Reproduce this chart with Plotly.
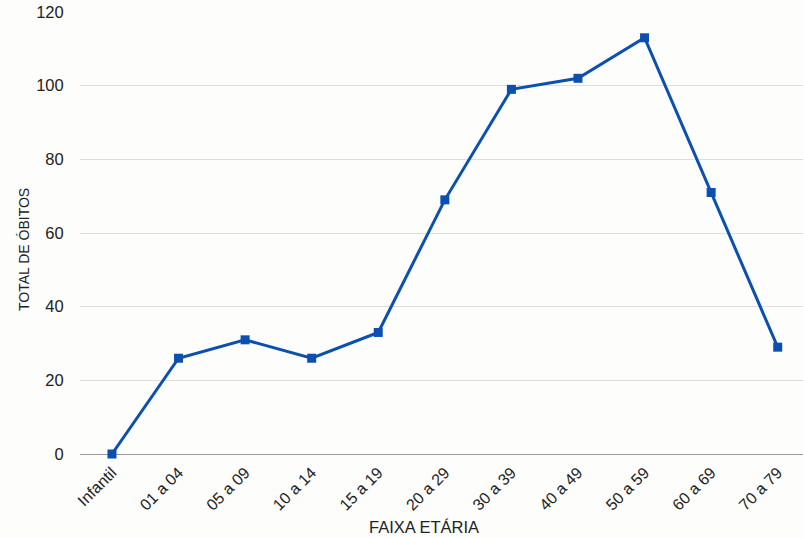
import plotly.graph_objects as go

categorias = ["Infantil", "01 a 04", "05 a 09", "10 a 14", "15 a 19", "20 a 29",
              "30 a 39", "40 a 49", "50 a 59", "60 a 69", "70 a 79"]
obitos = [0, 26, 31, 26, 33, 69, 99, 102, 113, 71, 29]
yticks = [0, 20, 40, 60, 80, 100, 120]

fig = go.Figure(go.Scatter(
    x=categorias, y=obitos, mode="lines+markers",
    line=dict(color="#0b50b0", width=3),
    marker=dict(symbol="square", size=9, color="#0b50b0"),
    cliponaxis=False,
))

font = "Liberation Sans, Arial, sans-serif"
fig.update_layout(
    width=804, height=538,
    margin=dict(l=80, r=1, t=12, b=84),
    paper_bgcolor="#fdfdfc", plot_bgcolor="#fdfdfc",
    font=dict(family=font, color="#222222"),
    showlegend=False,
    xaxis=dict(
        type="category", range=[-0.48, 10.38], tickangle=-45,
        tickfont=dict(size=16), showgrid=False, zeroline=False,
        ticks="outside", ticklen=2, tickcolor="rgba(0,0,0,0)",
    ),
    yaxis=dict(
        range=[0, 120], tickvals=yticks, tickfont=dict(size=16.5),
        gridcolor="#dedede", gridwidth=1,
        zeroline=True, zerolinecolor="#9a9a9a", zerolinewidth=1,
        ticks="outside", ticklen=12, tickcolor="rgba(0,0,0,0)",
    ),
    annotations=[
        dict(text="FAIXA ETÁRIA", xref="paper", yref="paper",
             x=(424 - 80) / 723, y=-(527 - 454) / 442, xanchor="center", yanchor="middle",
             showarrow=False, font=dict(size=16.5)),
        dict(text="TOTAL DE ÓBITOS", xref="paper", yref="paper",
             x=-(80 - 24) / 723, y=(454 - 250) / 442, xanchor="center", yanchor="middle",
             textangle=-90, showarrow=False, font=dict(size=14)),
    ],
)

fig.write_html("out.html")
